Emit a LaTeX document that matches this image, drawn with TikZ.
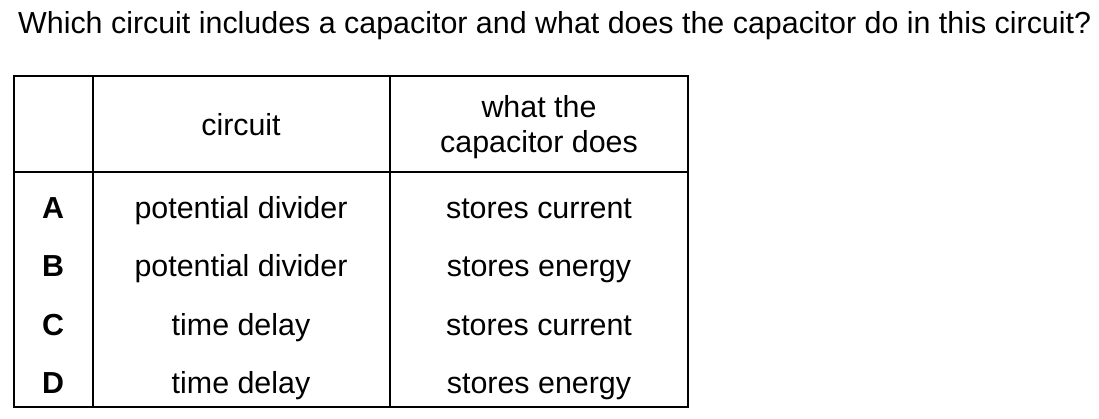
\documentclass[tikz,border=0pt]{standalone}
\usepackage{fontspec}
\setmainfont{Liberation Sans}
\usepackage{tikz}

\begin{document}
\begin{tikzpicture}[x=1pt, y=-1pt, every node/.style={inner sep=0pt, font=\fontsize{30.4}{35}\selectfont}]
  \useasboundingbox (0,0) rectangle (1099,419);

  % Question
  \node[anchor=base west] (question) at (18,34) {Which circuit includes a capacitor and what does the capacitor do in this circuit?};

  % Table lines
  \draw[line width=2pt] (14,76) rectangle (688,406.5);
  \draw[line width=2pt] (92.5,76) -- (92.5,406.5);
  \draw[line width=2pt] (390,76) -- (390,406.5);
  \draw[line width=2pt] (14,172) -- (688,172);

  % Header
  \node[anchor=base] (hcircuit) at (241,136) {circuit};
  \node[anchor=base] (hwhat1) at (539,117.7) {what the};
  \node[anchor=base] (hwhat2) at (539,152.7) {capacitor does};

  % Rows
  \node[anchor=base, font=\fontsize{30.4}{35}\selectfont\bfseries] (keyA) at (53,219) {A};
  \node[anchor=base, font=\fontsize{30.4}{35}\selectfont\bfseries] (keyB) at (53,277) {B};
  \node[anchor=base, font=\fontsize{30.4}{35}\selectfont\bfseries] (keyC) at (53,335) {C};
  \node[anchor=base, font=\fontsize{30.4}{35}\selectfont\bfseries] (keyD) at (53,393) {D};

  \node[anchor=base] (circuitA) at (241,219) {potential divider};
  \node[anchor=base] (circuitB) at (241,277) {potential divider};
  \node[anchor=base] (circuitC) at (241,335) {time delay};
  \node[anchor=base] (circuitD) at (241,393) {time delay};

  \node[anchor=base] (doesA) at (539,219) {stores current};
  \node[anchor=base] (doesB) at (539,277) {stores energy};
  \node[anchor=base] (doesC) at (539,335) {stores current};
  \node[anchor=base] (doesD) at (539,393) {stores energy};
\end{tikzpicture}
\end{document}
